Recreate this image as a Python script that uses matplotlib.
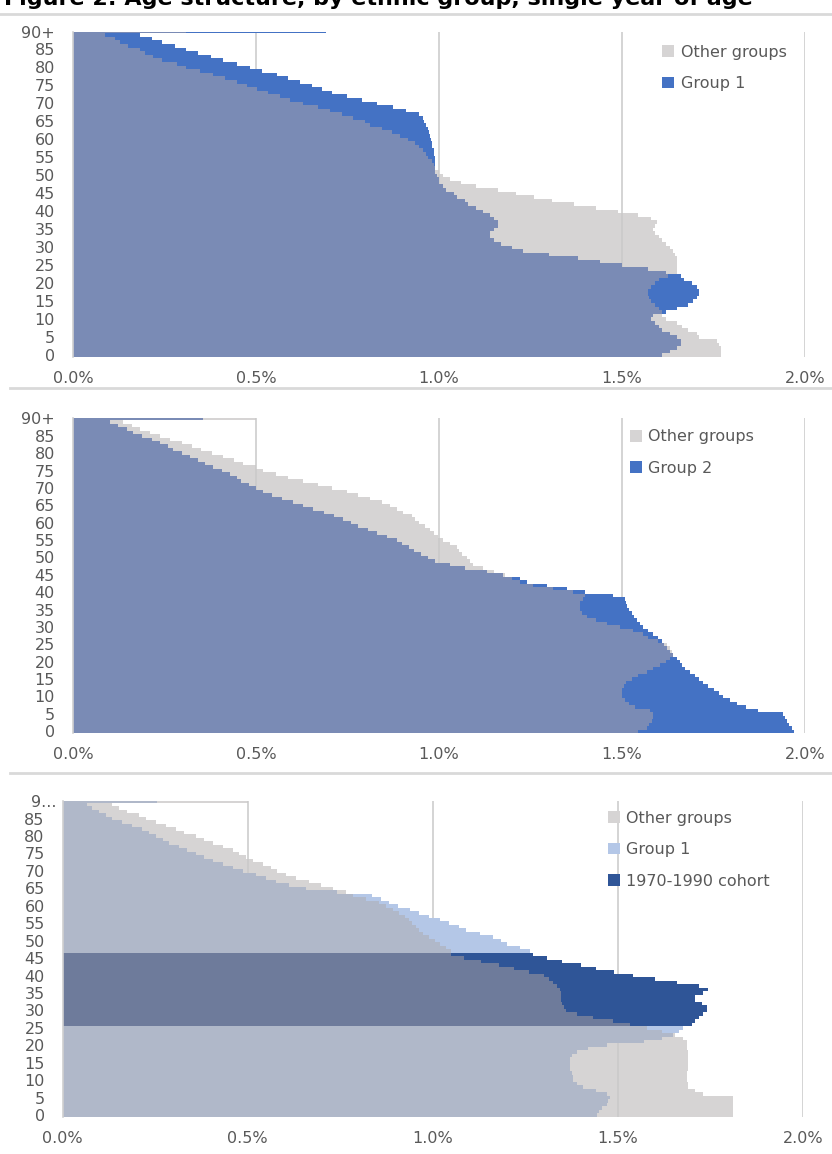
import numpy as np
import matplotlib
matplotlib.use("Agg")
import matplotlib.pyplot as plt
import matplotlib.transforms as mtransforms
from matplotlib.patches import Patch
from matplotlib.lines import Line2D

plt.rcParams['font.family'] = ['DejaVu Sans']

# age 0..89 and 90+ (last value), share of population in %
age_labels = [str(a) if a < 90 else '90+' for a in range(0, 91, 5)]

other_1 = [1.77, 1.77, 1.77, 1.765, 1.76, 1.71, 1.705, 1.68, 1.665, 1.65,
           1.62, 1.61, 1.61, 1.60, 1.59, 1.58, 1.575, 1.57, 1.57, 1.58,
           1.59, 1.60, 1.625, 1.65, 1.65, 1.65, 1.65, 1.65, 1.645, 1.64,
           1.63, 1.62, 1.61, 1.60, 1.59, 1.585, 1.59, 1.595, 1.58, 1.545,
           1.49, 1.43, 1.37, 1.31, 1.26, 1.21, 1.16, 1.10, 1.06, 1.03,
           1.01, 1.00, 0.99, 0.985, 0.98, 0.97, 0.965, 0.955, 0.945, 0.934,
           0.916, 0.893, 0.871, 0.843, 0.811, 0.798, 0.766, 0.734, 0.702, 0.67,
           0.629, 0.593, 0.566, 0.534, 0.502, 0.475, 0.447, 0.415, 0.383, 0.347,
           0.31, 0.283, 0.242, 0.219, 0.197, 0.183, 0.151, 0.128, 0.115, 0.087,
           0.31]
group_1 = [1.61, 1.63, 1.65, 1.66, 1.66, 1.65, 1.63, 1.61, 1.60, 1.59,
           1.58, 1.585, 1.62, 1.65, 1.68, 1.695, 1.705, 1.71, 1.71, 1.705,
           1.69, 1.67, 1.66, 1.62, 1.57, 1.50, 1.44, 1.38, 1.30, 1.23,
           1.20, 1.17, 1.15, 1.14, 1.14, 1.15, 1.16, 1.16, 1.15, 1.14,
           1.12, 1.10, 1.08, 1.07, 1.05, 1.04, 1.02, 1.01, 1.00, 1.00,
           0.995, 0.99, 0.99, 0.99, 0.99, 0.99, 0.987, 0.985, 0.982, 0.98,
           0.977, 0.975, 0.972, 0.97, 0.965, 0.96, 0.955, 0.946, 0.91, 0.875,
           0.83, 0.789, 0.748, 0.708, 0.68, 0.652, 0.62, 0.588, 0.558, 0.517,
           0.484, 0.447, 0.409, 0.376, 0.342, 0.31, 0.279, 0.244, 0.215, 0.183,
           0.69]

other_2 = [1.544, 1.567, 1.575, 1.581, 1.585, 1.585, 1.576, 1.536, 1.52, 1.508,
           1.50, 1.50, 1.50, 1.505, 1.512, 1.526, 1.544, 1.567, 1.585, 1.604,
           1.62, 1.63, 1.64, 1.636, 1.63, 1.622, 1.599, 1.571, 1.557, 1.53,
           1.494, 1.458, 1.43, 1.404, 1.39, 1.385, 1.385, 1.385, 1.394, 1.399,
           1.367, 1.312, 1.257, 1.22, 1.20, 1.18, 1.15, 1.12, 1.094, 1.085,
           1.076, 1.062, 1.055, 1.048, 1.03, 1.012, 0.998, 0.985, 0.975, 0.962,
           0.944, 0.935, 0.925, 0.902, 0.884, 0.866, 0.843, 0.811, 0.78, 0.748,
           0.707, 0.67, 0.629, 0.588, 0.556, 0.52, 0.50, 0.465, 0.44, 0.41,
           0.38, 0.35, 0.324, 0.297, 0.265, 0.238, 0.21, 0.183, 0.16, 0.137,
           0.50]
group_2 = [1.97, 1.964, 1.957, 1.95, 1.945, 1.94, 1.872, 1.84, 1.813, 1.795,
           1.777, 1.765, 1.75, 1.736, 1.722, 1.71, 1.70, 1.686, 1.672, 1.665,
           1.658, 1.65, 1.64, 1.63, 1.622, 1.615, 1.608, 1.597, 1.586, 1.572,
           1.558, 1.55, 1.54, 1.533, 1.527, 1.52, 1.513, 1.51, 1.508, 1.476,
           1.40, 1.349, 1.294, 1.24, 1.22, 1.175, 1.13, 1.07, 1.03, 0.99,
           0.97, 0.95, 0.932, 0.918, 0.90, 0.885, 0.858, 0.83, 0.805, 0.78,
           0.76, 0.737, 0.712, 0.685, 0.655, 0.628, 0.60, 0.57, 0.545, 0.52,
           0.50, 0.48, 0.46, 0.447, 0.429, 0.406, 0.383, 0.361, 0.342, 0.32,
           0.297, 0.274, 0.26, 0.238, 0.215, 0.188, 0.165, 0.147, 0.124, 0.101,
           0.355]

other_3 = [1.811, 1.811, 1.811, 1.811, 1.811, 1.811, 1.73, 1.708, 1.69, 1.69,
           1.687, 1.687, 1.687, 1.69, 1.69, 1.69, 1.69, 1.69, 1.69, 1.688,
           1.687, 1.687, 1.676, 1.655, 1.62, 1.58, 1.533, 1.487, 1.433, 1.39,
           1.36, 1.355, 1.35, 1.348, 1.348, 1.348, 1.343, 1.335, 1.325, 1.315,
           1.30, 1.26, 1.22, 1.18, 1.13, 1.085, 1.05, 1.05, 1.035, 1.02,
           1.005, 0.99, 0.975, 0.964, 0.955, 0.945, 0.935, 0.924, 0.91, 0.892,
           0.874, 0.856, 0.82, 0.784, 0.766, 0.73, 0.698, 0.667, 0.631, 0.603,
           0.58, 0.563, 0.54, 0.513, 0.495, 0.477, 0.459, 0.432, 0.405, 0.382,
           0.36, 0.328, 0.306, 0.279, 0.252, 0.225, 0.206, 0.175, 0.152, 0.134,
           0.50]
group_3 = [1.443, 1.45, 1.457, 1.47, 1.475, 1.48, 1.47, 1.44, 1.407, 1.39,
           1.38, 1.38, 1.376, 1.372, 1.37, 1.37, 1.372, 1.376, 1.39, 1.42,
           1.47, 1.57, 1.62, 1.65, 1.665, 1.676, 1.70, 1.71, 1.72, 1.73,
           1.74, 1.74, 1.727, 1.71, 1.71, 1.73, 1.745, 1.72, 1.66, 1.60,
           1.54, 1.49, 1.44, 1.40, 1.35, 1.31, 1.27, 1.262, 1.235, 1.202,
           1.185, 1.163, 1.127, 1.09, 1.07, 1.045, 1.02, 0.99, 0.964, 0.94,
           0.905, 0.883, 0.86, 0.837, 0.74, 0.658, 0.612, 0.576, 0.549, 0.522,
           0.486, 0.459, 0.432, 0.405, 0.382, 0.36, 0.337, 0.315, 0.288, 0.27,
           0.252, 0.234, 0.215, 0.188, 0.161, 0.134, 0.116, 0.098, 0.08, 0.066,
           0.256]
cohort_ages = (26, 46)   # 1970-1990 cohort

GRAY = '#d6d4d4'
BLUE = '#4472c4'
OVL = '#7a8bb5'
LBLUE = '#b4c7e7'
LOVL = '#b0b8c9'
DBLUE = '#2f5597'
DOVL = '#6e7b9b'
TXT = '#595959'

fig = plt.figure(figsize=(8.32, 11.54), dpi=100)


def panel(rect, other, grp, grp_col, ovl_col, ylabels, legend_items, leg_xy):
    ax = fig.add_axes(rect)
    ages = np.arange(len(other))
    other = np.array(other)
    grp = np.array(grp)
    ax.barh(ages, other, height=1.0, color=GRAY, linewidth=0, antialiased=False, zorder=1)
    ax.barh(ages, grp, height=1.0, color=grp_col, linewidth=0, antialiased=False, zorder=2)
    ax.barh(ages, np.minimum(other, grp), height=1.0, color=ovl_col, linewidth=0,
            antialiased=False, zorder=3)
    ax.set_xlim(0, 2.0)
    ax.set_ylim(-0.5, 89.9)
    ax.set_xticks([0, 0.5, 1.0, 1.5, 2.0])
    ax.set_xticklabels(['0.0%', '0.5%', '1.0%', '1.5%', '2.0%'])
    ax.set_yticks(range(0, 91, 5))
    ax.set_yticklabels(ylabels)
    ax.tick_params(axis='both', length=0, labelsize=11.5, labelcolor=TXT)
    ax.tick_params(axis='y', pad=13)
    ax.tick_params(axis='x', pad=10)
    ax.set_axisbelow('line')
    ax.grid(axis='x', color='#c9c9c9', linewidth=1.1)
    for s in ['top', 'right', 'bottom']:
        ax.spines[s].set_visible(False)
    ax.spines['left'].set_color('#d0d0d0')
    ax.spines['left'].set_linewidth(1.2)
    ax.spines['left'].set_zorder(4)
    handles = [Patch(facecolor=c, edgecolor='none') for c, _ in legend_items]
    ax.legend(handles, [t for _, t in legend_items], loc='upper left',
              bbox_to_anchor=leg_xy, frameon=False, fontsize=11.5,
              handlelength=0.75, handleheight=0.75, handletextpad=0.4,
              labelspacing=1.03, borderaxespad=0, borderpad=0,
              labelcolor=TXT)
    return ax


W, H = 832, 1154


def rect(x0, x1, ytop, ybot):
    return [x0 / W, 1 - ybot / H, (x1 - x0) / W, (ybot - ytop) / H]


panel(rect(73, 805, 31.5, 357), other_1, group_1, BLUE, OVL, age_labels,
      [(GRAY, 'Other groups'), (BLUE, 'Group 1')], (0.805, 0.96))
panel(rect(73, 805, 418.4, 733), other_2, group_2, BLUE, OVL, age_labels,
      [(GRAY, 'Other groups'), (BLUE, 'Group 2')], (0.761, 0.965))

in_cohort = [(cohort_ages[0] <= a <= cohort_ages[1]) for a in range(len(group_3))]
col3 = [DBLUE if c else LBLUE for c in in_cohort]
ovl3 = [DOVL if c else LOVL for c in in_cohort]
labels3 = age_labels[:-1] + ['9...']
ax3 = panel(rect(62.7, 802.7, 801.2, 1116.7), other_3, group_3, col3, ovl3, labels3,
            [(GRAY, 'Other groups'), (LBLUE, 'Group 1'), (DBLUE, '1970-1990 cohort')],
            (0.737, 0.97))
# the truncated top label sits a little closer to the axis in the source
top_lbl = ax3.get_yticklabels()[-1]
top_lbl.set_transform(top_lbl.get_transform() +
                      mtransforms.ScaledTranslation(0.12, 0, fig.dpi_scale_trans))

# chart borders / separators
for y, x0 in [(14, 0), (388, 10), (773, 10)]:
    fig.add_artist(Line2D([x0 / W, 1], [1 - y / H, 1 - y / H], color='#d9d9d9',
                          linewidth=2, transform=fig.transFigure))

# title strip: only the lower part of the heading is visible in the source image
fig.text(0.005, 1 - 5 / H, 'Figure 2: Age structure, by ethnic group, single year of age',
         fontsize=16, fontweight='bold', va='baseline', ha='left', color='black')

fig.savefig('out.png', dpi=100)
